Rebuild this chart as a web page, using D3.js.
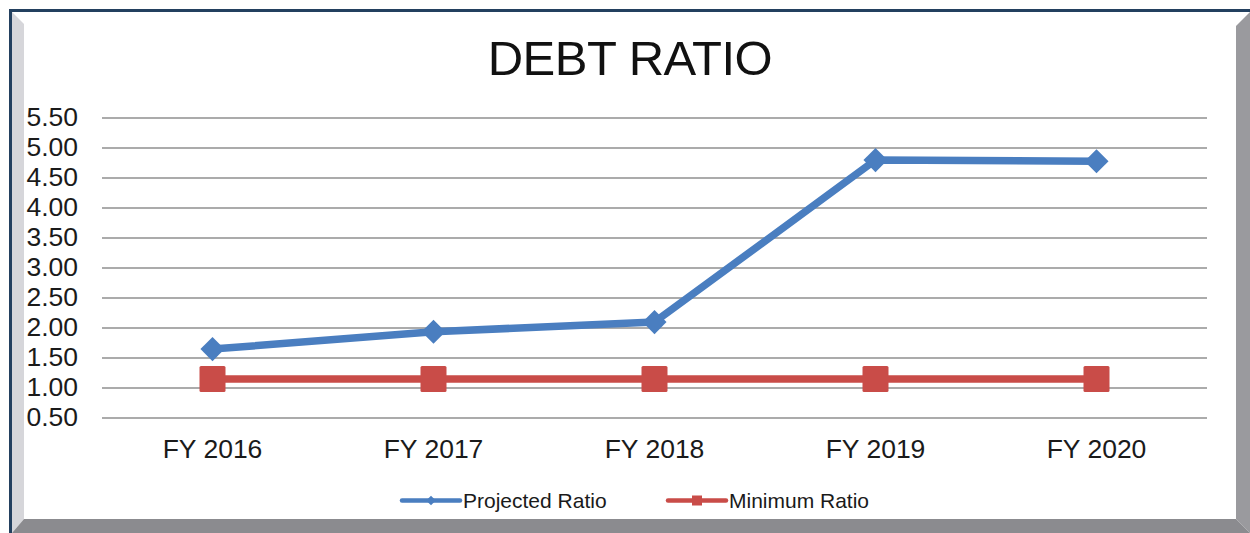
<!DOCTYPE html>
<html>
<head>
<meta charset="utf-8">
<script src="https://cdn.jsdelivr.net/npm/d3@7"></script>
<style>
  html, body { margin: 0; padding: 0; background: #ffffff; }
  svg { display: block; font-family: "Liberation Sans", Arial, sans-serif; }
</style>
</head>
<body>
<svg id="chart" width="1250" height="533"></svg>
<script>
// Fiscal years on the x axis
const categories = ["FY 2016", "FY 2017", "FY 2018", "FY 2019", "FY 2020"];
// Debt ratio series
const projectedRatio = [1.64, 1.93, 2.09, 4.79, 4.77];
const minimumRatio = [1.14, 1.14, 1.14, 1.14, 1.14];
// Value axis ticks
const yTicks = [0.5, 1.0, 1.5, 2.0, 2.5, 3.0, 3.5, 4.0, 4.5, 5.0, 5.5];

const seriesNames = ["Projected Ratio", "Minimum Ratio"];
const blue = "#4a7ec0";
const red = "#c94c48";

const svg = d3.select("#chart");

// ---- bevelled frame ----
const frame = svg.append("g");
frame.append("polygon")            // left bevel
  .attr("points", "12,12 24,24 24,519 12,533")
  .attr("fill", "#d6d6da");
frame.append("polygon")            // right bevel
  .attr("points", "1250,12 1236,26 1236,519 1250,533")
  .attr("fill", "#9a9a9e");
frame.append("polygon")            // bottom bevel
  .attr("points", "12,533 24,519 1236,519 1250,533")
  .attr("fill", "#8b8b8f");
frame.append("line")
  .attr("x1", 10).attr("y1", 10.5).attr("x2", 1250).attr("y2", 10.5)
  .attr("stroke", "#23405f").attr("stroke-width", 3);
frame.append("line")
  .attr("x1", 10.5).attr("y1", 9).attr("x2", 10.5).attr("y2", 533)
  .attr("stroke", "#23405f").attr("stroke-width", 3);

// ---- scales ----
const plotLeft = 102, plotRight = 1207;
const x = d3.scaleBand().domain(categories).range([plotLeft, plotRight]);
const y = d3.scaleLinear().domain([0.5, 5.5]).range([417.5, 117.5]);

// ---- title ----
svg.append("text")
  .attr("x", 630).attr("y", 75)
  .attr("text-anchor", "middle")
  .attr("font-size", 49)
  .attr("letter-spacing", -0.5)
  .attr("fill", "#111")
  .text("DEBT RATIO");

// ---- y axis with gridlines ----
const yAxis = svg.append("g")
  .attr("transform", `translate(${plotLeft},0)`)
  .call(d3.axisLeft(y)
    .tickValues(yTicks)
    .tickFormat(d3.format(".2f"))
    .tickSizeInner(-(plotRight - plotLeft))
    .tickSizeOuter(0)
    .tickPadding(24));
yAxis.select(".domain").remove();
yAxis.selectAll(".tick line").attr("stroke", "#ababab").attr("stroke-width", 1.8);
yAxis.selectAll(".tick text")
  .attr("font-size", 26.5)
  .attr("font-family", "Liberation Sans, Arial, sans-serif")
  .attr("fill", "#1a1a1a");

// ---- x axis labels ----
const xAxis = svg.append("g")
  .attr("transform", `translate(0,${y(0.5)})`)
  .call(d3.axisBottom(x).tickSizeInner(0).tickSizeOuter(0).tickPadding(22));
xAxis.select(".domain").remove();
xAxis.selectAll(".tick text")
  .attr("font-size", 26.5)
  .attr("font-family", "Liberation Sans, Arial, sans-serif")
  .attr("fill", "#1a1a1a");

const cx = d => x(d) + x.bandwidth() / 2;

// ---- lines ----
const line = d3.line().x((d, i) => cx(categories[i])).y(d => y(d));

svg.append("path")
  .datum(minimumRatio)
  .attr("d", line)
  .attr("fill", "none")
  .attr("stroke", red)
  .attr("stroke-width", 7.5);

svg.append("path")
  .datum(projectedRatio)
  .attr("d", line)
  .attr("fill", "none")
  .attr("stroke", blue)
  .attr("stroke-width", 7.5)
  .attr("stroke-linejoin", "round");

// ---- markers ----
const diamond = d3.symbol().type(d3.symbolDiamond2).size(370);
svg.append("g").selectAll("path")
  .data(projectedRatio)
  .join("path")
  .attr("d", diamond)
  .attr("transform", (d, i) => `translate(${cx(categories[i])},${y(d)})`)
  .attr("fill", blue);

const sq = 26;
svg.append("g").selectAll("rect")
  .data(minimumRatio)
  .join("rect")
  .attr("x", (d, i) => cx(categories[i]) - sq / 2)
  .attr("y", d => y(d) - sq / 2)
  .attr("width", sq).attr("height", sq)
  .attr("rx", 1.5)
  .attr("fill", red);

// ---- legend ----
const legendItems = [
  { name: seriesNames[0], color: blue, x0: 402, marker: "diamond" },
  { name: seriesNames[1], color: red, x0: 668, marker: "square" }
];
const legendY = 500.5;
const lg = svg.append("g");
legendItems.forEach(item => {
  lg.append("line")
    .attr("x1", item.x0).attr("x2", item.x0 + 58)
    .attr("y1", legendY).attr("y2", legendY)
    .attr("stroke", item.color).attr("stroke-width", 4.5)
    .attr("stroke-linecap", "round");
  if (item.marker === "diamond") {
    lg.append("path")
      .attr("d", d3.symbol().type(d3.symbolDiamond2).size(60)())
      .attr("transform", `translate(${item.x0 + 29},${legendY})`)
      .attr("fill", item.color);
  } else {
    lg.append("rect")
      .attr("x", item.x0 + 24).attr("y", legendY - 5)
      .attr("width", 10).attr("height", 10)
      .attr("fill", item.color);
  }
  lg.append("text")
    .attr("x", item.x0 + 61).attr("y", legendY + 7.5)
    .attr("font-size", 21)
    .attr("fill", "#1a1a1a")
    .text(item.name);
});
</script>
</body>
</html>
